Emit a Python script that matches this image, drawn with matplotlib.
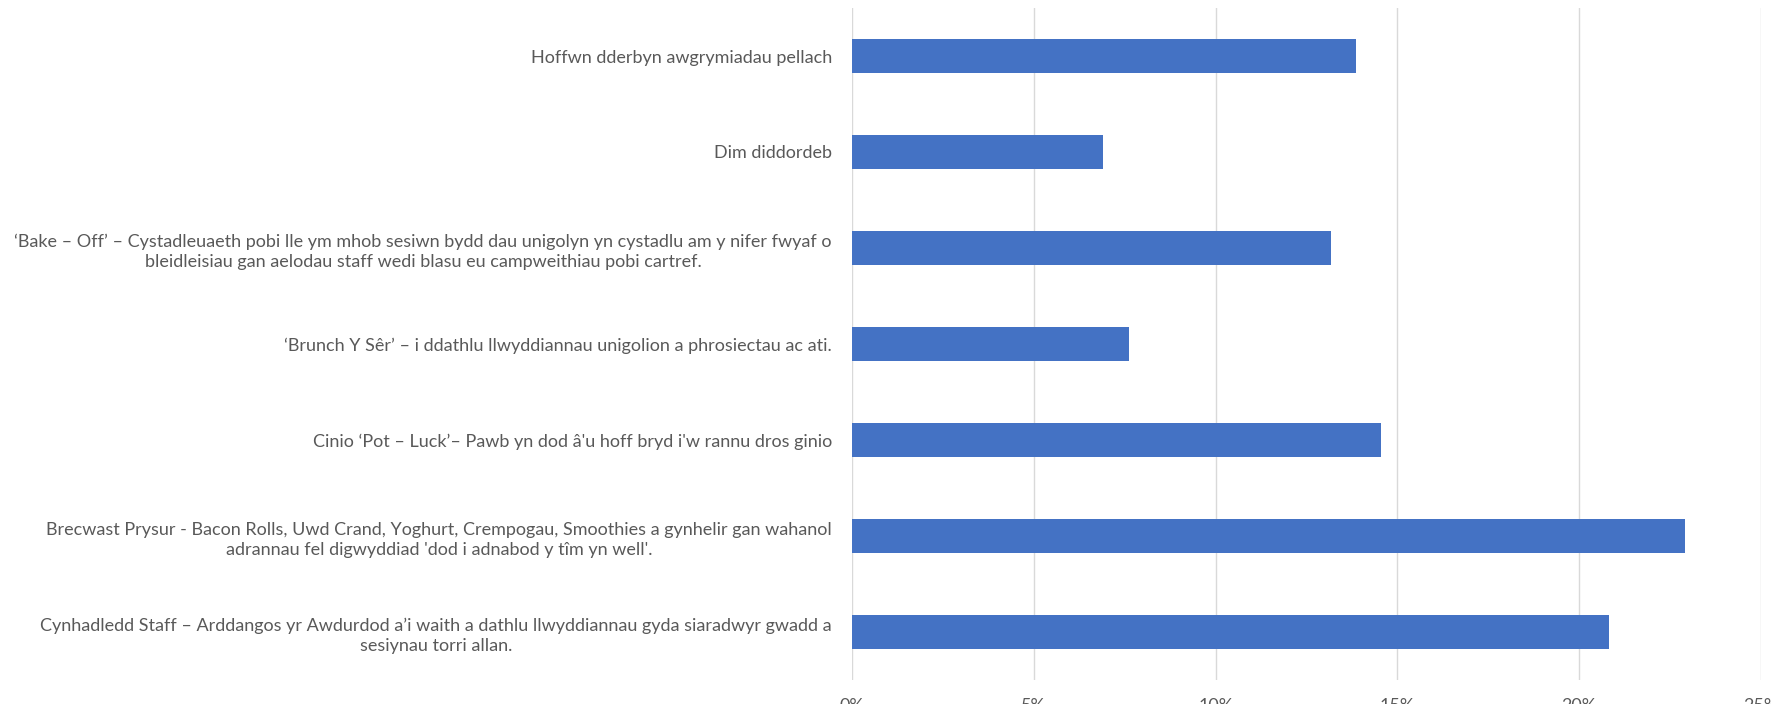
import matplotlib
matplotlib.use("Agg")
import matplotlib.pyplot as plt
from matplotlib.ticker import FixedLocator

categories = [
    "Hoffwn dderbyn awgrymiadau pellach",
    "Dim diddordeb",
    "‘Bake – Off’ – Cystadleuaeth pobi lle ym mhob sesiwn bydd dau unigolyn yn cystadlu am y nifer fwyaf o\nbleidleisiau gan aelodau staff wedi blasu eu campweithiau pobi cartref.",
    "‘Brunch Y Sêr’ – i ddathlu llwyddiannau unigolion a phrosiectau ac ati.",
    "Cinio ‘Pot – Luck’– Pawb yn dod â'u hoff bryd i'w rannu dros ginio",
    "Brecwast Prysur - Bacon Rolls, Uwd Crand, Yoghurt, Crempogau, Smoothies a gynhelir gan wahanol\nadrannau fel digwyddiad 'dod i adnabod y tîm yn well'.",
    "Cynhadledd Staff – Arddangos yr Awdurdod a’i waith a dathlu llwyddiannau gyda siaradwyr gwadd a\nsesiynau torri allan.",
]
values = [0.1386, 0.0690, 0.1317, 0.0762, 0.1456, 0.2292, 0.2081]
xticks = [0.0, 0.05, 0.10, 0.15, 0.20, 0.25]
xticklabels = ["0%", "5%", "10%", "15%", "20%", "25%"]

plt.rcParams['font.family'] = ['Lato', 'DejaVu Sans']

W, H = 1771, 704
fig = plt.figure(figsize=(W / 100, H / 100), dpi=100)
ax = fig.add_axes([852 / W, 24 / H, (1761 - 852) / W, (680 - 8) / H])

ypos = list(range(len(categories)))
ax.barh(ypos, values, height=0.354, color="#4472C4", zorder=3)
ax.set_ylim(len(categories) - 0.5, -0.5)
ax.set_xlim(0, 0.25)

ax.xaxis.set_major_locator(FixedLocator(xticks))
ax.set_xticklabels(xticklabels, color="#595959", fontsize=13.0)
ax.set_yticks(ypos)
ax.set_yticklabels(categories, color="#595959", fontsize=13.0, multialignment="center",
                   linespacing=1.35)
ax.tick_params(axis="both", length=0)
ax.tick_params(axis="y", pad=14.5)
ax.tick_params(axis="x", pad=13)
ax.grid(axis="x", color="#d9d9d9", linewidth=1, zorder=0)
for s in ax.spines.values():
    s.set_visible(False)

fig.savefig("out.png", dpi=100, facecolor="white")
